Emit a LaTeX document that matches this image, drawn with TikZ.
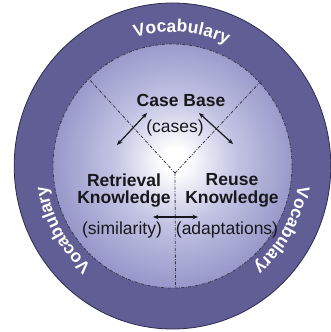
\documentclass[tikz,border=0pt]{standalone}
\usepackage{fontspec}
\setmainfont{Liberation Sans}
\usetikzlibrary{arrows.meta,decorations.text,calc}
\definecolor{ringcol}{RGB}{96,94,148}
\definecolor{ringedge}{RGB}{45,44,80}
\definecolor{edgecol}{RGB}{152,153,202}
\definecolor{midcol}{RGB}{194,195,227}
\definecolor{txtcol}{RGB}{24,24,28}
\definecolor{dashcol}{RGB}{55,55,75}
\pgfdeclareradialshading{innershade}{\pgfpoint{0.5bp}{1.3bp}}{color(0bp)=(white); color(2.5bp)=(white); color(13bp)=(midcol); color(25bp)=(edgecol); color(50bp)=(edgecol)}
\tikzset{
  divline/.style={draw=dashcol, line width=0.8pt, dash pattern=on 3pt off 1.5pt on 0.8pt off 1.5pt},
  boldtxt/.style={font=\fontsize{17.5}{17.5}\selectfont\bfseries, text=txtcol, align=center, inner sep=0pt},
  plaintxt/.style={font=\fontsize{17.5}{17.5}\selectfont, text=txtcol, inner sep=0pt},
  dblarrow/.style={{Stealth[length=5.5pt,width=4.5pt]}-{Stealth[length=5.5pt,width=4.5pt]}, line width=1.2pt, draw=txtcol},
  voc/.style={decorate, decoration={text along path, text align=center, text color=white,
     text={|\fontsize{17.5}{18}\selectfont\bfseries|Vocabulary}}}
}
\begin{document}
\begin{tikzpicture}[x=1pt,y=1pt]
\useasboundingbox (0,0) rectangle (331,332);
\coordinate (c) at (172.5,166);
% outer ring
\path[fill=ringcol, draw=ringedge, line width=0.8pt] (c) ellipse[x radius=158.3, y radius=163];
% inner disc
\path[shading=innershade] (c) ellipse[x radius=119.5, y radius=122];
\path[divline] (c) ellipse[x radius=119.5, y radius=122];
% dividers
\coordinate (j) at (175,159);
\coordinate (ul) at (89,253);
\coordinate (ur) at (262,252);
\coordinate (bt) at (175.5,44);
\path[divline] (j) -- (ul);
\path[divline] (j) -- (ur);
\path[divline] (j) -- (bt);
% texts
\node[boldtxt] (cb) at (181,232) {Case Base};
\node[plaintxt] (cases) at (175,204) {(cases)};
\node[boldtxt] (ret) at (124,141.5) {Retrieval\\Knowledge};
\node[boldtxt] (reu) at (232,141.5) {Reuse\\Knowledge};
\node[plaintxt] (sim) at (122,102) {(similarity)};
\node[plaintxt] (ada) at (227,102) {(adaptations)};
% arrows
\coordinate (a1) at (117,187);
\coordinate (a2) at (147,219);
\coordinate (b1) at (199,219);
\coordinate (b2) at (233,188);
\coordinate (h1) at (153,115);
\coordinate (h2) at (198,115);
\draw[dblarrow] (a1) -- (a2);
\draw[dblarrow] (b1) -- (b2);
\draw[dblarrow] (h1) -- (h2);
% vocabulary labels
\path[voc] ($(c)+(146:130 and 134)$) arc[start angle=146, end angle=26, x radius=130, y radius=134];
\path[voc] ($(c)+(270:127 and 131)$) arc[start angle=270, end angle=150, x radius=127, y radius=131];
\path[voc] ($(c)+(30:127 and 131)$) arc[start angle=30, end angle=-90, x radius=127, y radius=131];
\end{tikzpicture}
\end{document}
